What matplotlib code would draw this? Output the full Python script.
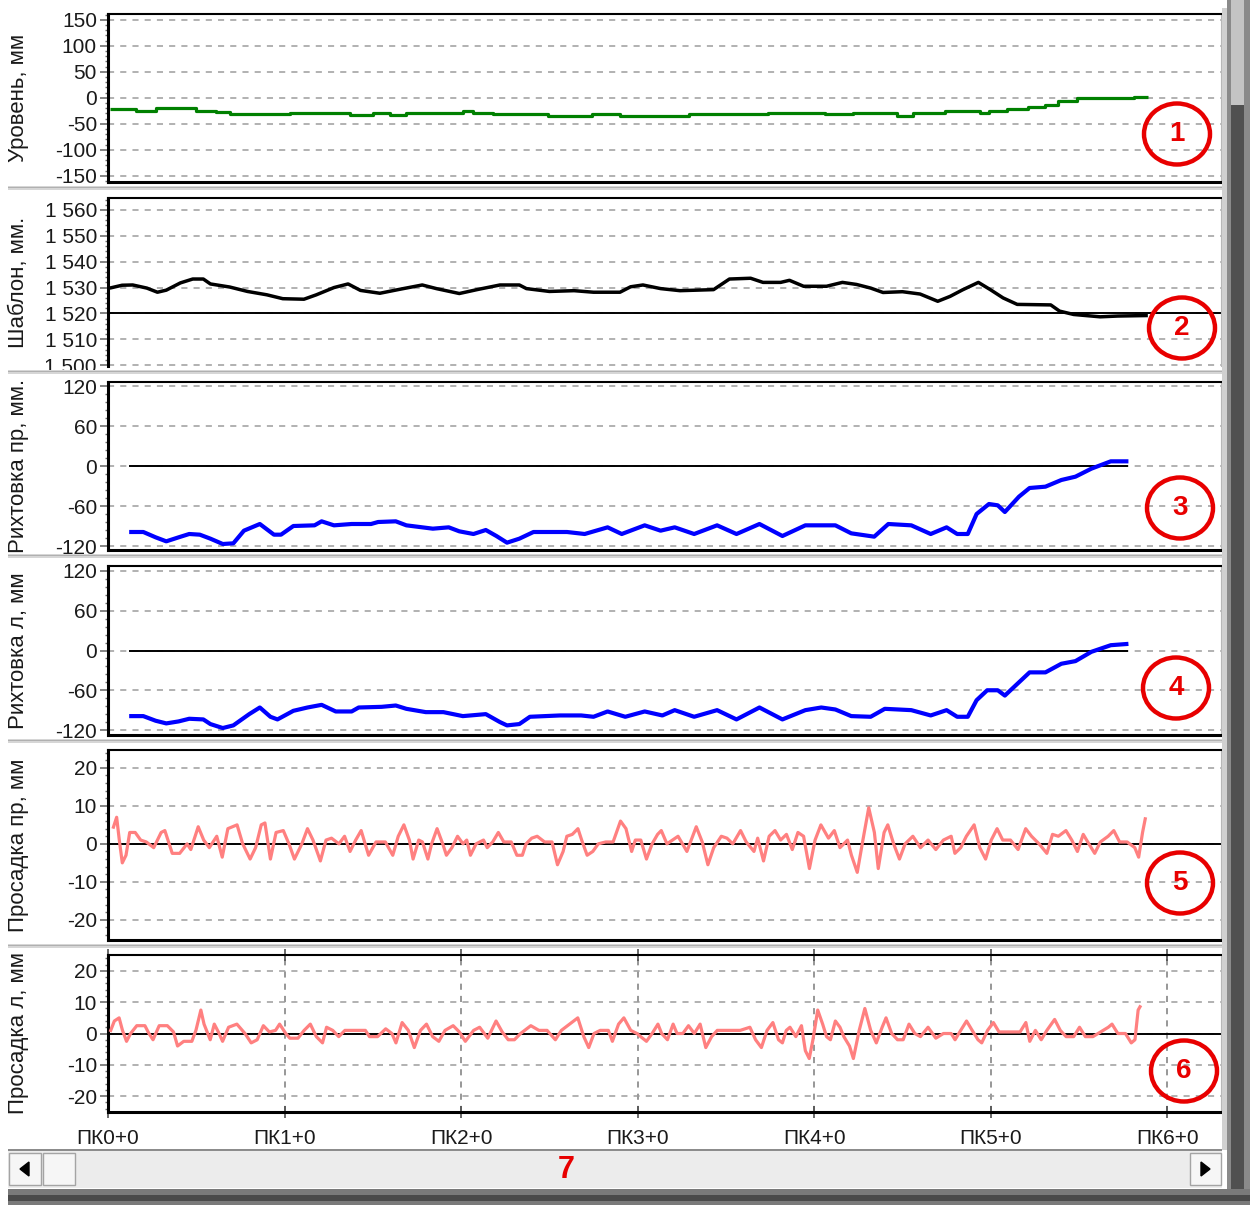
"""Track geometry record: six stacked channels along the line (ПК = 100 m)."""
import numpy as np
import matplotlib
matplotlib.use("Agg")
import matplotlib.pyplot as plt
from matplotlib.patches import Rectangle, Ellipse, Polygon
from matplotlib.ticker import AutoMinorLocator
from matplotlib.transforms import IdentityTransform

plt.rcParams.update({"font.family": ["Liberation Sans", "DejaVu Sans"],
                     "font.size": 14, "lines.solid_capstyle": "butt",
                     "axes.unicode_minus": False})

W, H = 1254, 1205

# ---- data (distance in m, values in mm) ----
level_x = [1, 16, 27, 50, 61, 69, 103, 137, 150, 160, 169, 201, 207, 218, 249, 274,
           290, 329, 374, 406, 422, 447, 456, 474, 494, 499, 509, 521, 531, 538, 549,
           581, 589]
level_y = [-21, -25, -20, -25, -28, -32, -29, -33, -30, -33, -29, -25, -29, -32, -36, -32,
           -36, -32, -29, -32, -30, -35, -30, -26, -30, -26, -22, -18, -13, -7, -1,
           2, 2]

gauge_x = [1, 8, 14, 22, 28, 33, 41, 48, 54, 58,
           69, 79, 90, 99, 111, 118, 128, 136, 143, 154,
           165, 178, 186, 199, 209, 222, 233, 237, 250, 264,
           275, 290, 296, 303, 313, 324, 343, 352, 364, 371,
           381, 386, 394, 407, 416, 424, 432, 439, 450, 460,
           470, 477, 484, 493, 500, 507, 515, 534, 539, 547,
           562, 572, 589]
gauge_y = [1529.8, 1530.9, 1531, 1529.8, 1528.2, 1529, 1531.8, 1533.3, 1533.3, 1531.4,
           1530.2, 1528.5, 1527.2, 1525.7, 1525.5, 1527.2, 1530, 1531.4, 1528.9, 1527.8,
           1529.3, 1531, 1529.6, 1527.7, 1529.2, 1531, 1531, 1529.6, 1528.5, 1528.8,
           1528.2, 1528.2, 1530.3, 1531, 1529.6, 1528.8, 1529.2, 1533.3, 1533.6, 1532,
           1532, 1532.8, 1530.5, 1530.5, 1532, 1531.2, 1529.8, 1528.1, 1528.4, 1527.5,
           1524.7, 1526.6, 1529.1, 1532, 1529.1, 1526, 1523.5, 1523.3, 1520.9, 1519.6,
           1518.7, 1519, 1519.2]

align_r_x = [12, 20, 27, 33, 40, 46, 52, 58, 65, 71,
             77, 86, 94, 98, 105, 117, 121, 128, 138, 149,
             153, 163, 169, 184, 193, 199, 207, 214, 220, 226,
             233, 241, 260, 270, 283, 291, 304, 313, 321, 332,
             345, 356, 369, 382, 395, 412, 421, 434, 442, 455,
             466, 475, 481, 487, 492, 499, 504, 508, 516, 522,
             531, 540, 548, 557, 568, 578]
align_r_y = [-99, -99, -107, -113, -107, -102, -103, -109, -117, -116,
             -97, -87, -103, -103, -90, -89, -83, -89, -87, -87,
             -84, -83, -89, -94, -92, -98, -102, -96, -105, -115,
             -109, -99, -99, -102, -92, -102, -89, -97, -92, -102,
             -89, -102, -87, -105, -89, -89, -101, -106, -87, -89,
             -102, -92, -102, -102, -72, -57, -59, -69, -46, -33,
             -31, -21, -16, -4, 7, 7]

align_l_x = [12, 20, 27, 33, 40, 46, 54, 58, 65, 71,
             80, 86, 92, 96, 105, 113, 121, 129, 138, 142,
             155, 163, 169, 180, 190, 201, 214, 222, 226, 233,
             239, 256, 268, 275, 283, 293, 304, 314, 321, 332,
             345, 356, 369, 382, 395, 404, 412, 421, 432, 440,
             455, 466, 475, 481, 487, 492, 498, 504, 508, 516,
             522, 531, 540, 548, 557, 568, 578]
align_l_y = [-99, -99, -106, -110, -107, -103, -104, -111, -117, -113,
             -96, -86, -100, -104, -91, -86, -82, -92, -92, -86,
             -85, -83, -88, -93, -93, -99, -96, -108, -113, -111,
             -100, -98, -98, -100, -92, -100, -92, -98, -90, -100,
             -90, -104, -86, -104, -90, -86, -89, -99, -100, -88,
             -90, -98, -90, -100, -100, -75, -60, -60, -68, -48,
             -33, -33, -20, -16, -2, 8, 10]

sag_r_x = [2.8, 4.9, 6.4, 8.1, 10.2, 12.3, 15.4, 18.5, 21.7, 25.9,
           30.1, 32.2, 36.4, 40.6, 44.8, 46.9, 51.1, 54.2, 57.4, 61.6,
           64.7, 67.9, 73.1, 76.3, 80.5, 83.6, 86.8, 88.9, 92, 95.2,
           99.3, 102.5, 105.6, 109.8, 113, 116.1, 120.3, 123.5, 126.6, 130.8,
           134, 137.1, 140.3, 143.4, 147.6, 151.8, 157.1, 161.3, 164.4, 167.6,
           170.7, 172.8, 176, 178.1, 181.2, 183.3, 186.4, 189.6, 191.7, 194.8,
           198, 201.1, 203.2, 205.3, 208.5, 212.7, 214.8, 217.9, 221.1, 224.2,
           228.4, 231.6, 234.7, 236.8, 240, 243.1, 247.3, 251.5, 254.6, 257.8,
           259.9, 263, 266.2, 268.3, 271.4, 274.6, 277.7, 281.9, 286.1, 290.3,
           293.4, 296.6, 298.7, 301.8, 305, 308.2, 311.3, 313.4, 316.6, 319.7,
           322.9, 327.9, 333.2, 336.6, 339.8, 343.1, 347.4, 350.6, 353.9, 358.3,
           361.5, 365.9, 368, 371.3, 374.5, 377.8, 381, 384.3, 387.6, 390.8,
           394, 397.3, 400.5, 403.8, 408.1, 411.4, 414.6, 418.9, 421.1, 424.4,
           427.6, 430.9, 434.1, 436.3, 439.6, 441.7, 445, 448.3, 451.5, 455.9,
           460.2, 464.5, 468.9, 473.2, 477.6, 479.7, 483, 486.2, 490.6, 493.8,
           497.1, 500.3, 503.6, 506.8, 511.2, 515.5, 519.8, 523.1, 527.4, 531.8,
           535, 538.3, 542.6, 545.9, 549.1, 552.4, 555.6, 558.9, 562.1, 566.5,
           569.7, 573, 577.3, 581.6, 583.8, 586, 587.7]
sag_r_y = [4, 7, 1, -5, -3, 3, 3, 1, 0.5, -1,
           3, 3.5, -2.5, -2.5, 0, -1.5, 4.5, 1, -1, 2,
           -3.5, 4, 5, 0, -4, -1, 5, 5.5, -4, 3,
           3.5, 0, -4, 0, 4, 1, -4.5, 1, 1.5, 0,
           2, -2, 1, 3.5, -3, 0.5, 0.5, -3, 2, 5,
           1, -4, 1, 0.5, -4, 0, 4, 0, -3, -1,
           2, 0, 1, -3, 0, 1, -1, 0.5, 3, 0.5,
           0.5, -3, -3, 0, 1.5, 2, 0.5, 0.5, -5.5, -2,
           2, 2.5, 4, 1, -3, -2, 0, 0.5, 0.5, 6,
           4, -2, 1, 1, -4, 0, 2.5, 3.5, 0, 1,
           2, -2, 4.5, 0.5, -5.5, -1, 2, 1.5, 0, 3.5,
           0.5, -2, 1.5, -4.5, 2, 3.5, 1, 2.5, -1.5, 3,
           2, -6.5, 1, 5, 1.5, 3.5, -1, 1, -3, -7.5,
           1, 9.5, 3, -6.5, 3, 5, 0, -4, 0, 2,
           -1, 1, -1.5, 1, 2, -2.5, -1, 2, 5, -1,
           -4, 1, 4, 1, 1, -1.5, 4, 2, 0, -2.5,
           2.5, 2, 3.5, 1, -2, 2.5, 0, -2.5, 0.5, 2,
           3.5, 0.5, 0.5, -1, -3.5, 3, 7]

sag_l_x = [1.2, 3.6, 6.3, 8.2, 10.5, 12.8, 16.3, 20.9, 23.2, 25.5,
           29, 33.6, 37.1, 39.4, 42.9, 47.5, 49.8, 52.6, 54.4, 57.9,
           60.2, 62.5, 64.9, 68.3, 73, 77.6, 81.1, 84.5, 88, 91.4,
           94.9, 97.2, 100.7, 103, 107.6, 111.1, 114.6, 118, 121.5, 123.8,
           127.3, 130.7, 134.2, 140, 145.8, 148.1, 152.7, 157.3, 160.8, 163.1,
           166.6, 170.1, 173.5, 177, 180.4, 183.9, 187.4, 190.9, 195.5, 199,
           202.4, 207.1, 210.5, 215.1, 219.8, 223.3, 226.7, 230.2, 233.7, 239.5,
           244.1, 248.7, 253.4, 256.8, 261.5, 266.1, 269.5, 272.3, 275.3, 278.8,
           283.4, 285.7, 289.2, 292.2, 296.1, 299.6, 301.7, 305, 308.2, 311.5,
           313.6, 316.9, 320.1, 322.3, 325.6, 328.8, 332.1, 335.4, 338.6, 341.9,
           345.1, 351.6, 358.1, 363.6, 366.8, 370.1, 373.3, 376.6, 379.8, 382,
           384.2, 386.3, 389.6, 392.8, 395, 397.2, 399.3, 402, 404.8, 407,
           409.2, 412, 414.6, 416.8, 420, 422.2, 425.5, 428.7, 432, 435.2,
           438.5, 440.7, 443.9, 447.2, 450.4, 453.7, 457, 460.2, 464.5, 468.9,
           473.2, 477.6, 479.8, 483, 486.3, 489.5, 492.8, 494.9, 498.2, 501.5,
           504.7, 511.2, 516.6, 519.9, 522.1, 525.3, 528.6, 531.8, 536.2, 539.4,
           542.7, 547, 550.3, 553.6, 557.9, 562.2, 566.6, 568.7, 572, 576.3,
           579.6, 581.7, 583.5, 585]
sag_l_y = [0.5, 4, 5, 1, -2.5, 0, 2.5, 2.5, 0, -2,
           2.5, 2.5, 0.5, -4, -2.5, -2.5, 1, 7.5, 3, -2,
           3, 0.5, -2.5, 2, 3, 0, -3, -2, 2.5, 0.5,
           1, 3, 0, -1.5, -1.5, 1, 3, -1, -3, 2,
           1, -1, 1, 1, 1, -1, -1, 1.5, 0, -3,
           3.5, 1, -4.5, 1, 3, -1, -2.5, 1, 2.5, 0.5,
           -2.5, 1, 2, -1.5, 4, 0.5, -2, -2, 0, 2.5,
           1, 1, -2, 1, 3, 5, -1, -4.5, 0, 1,
           1, -2.5, 3, 5, 1, 0, -1, -2.5, 0, 3,
           0, -2, 3, 0, 0, 2.5, 0, 3, -4.5, -1,
           1, 1, 1, 2, -2, -4.5, 1, 3.5, -2, -3,
           1, 2, -1, 2.5, -5.5, -8, -2, 7.5, 3, -1,
           -2, 4, 2, -1, -4, -8, 1, 8, 1, -3,
           2, 5, 0, -2, -2, 3, 0, -1, 2, -1.5,
           0, 0, -2, 1, 4, 1, -2, -3, 1, 3.5,
           0.5, 0.5, 0.5, 3.5, -2.5, 1, -2, 1, 4.5, 1,
           -1, -1, 2, -1, -1, 0.5, 2, 3, 0, 0,
           -3, -2, 7.5, 9]

pk_pos = [0, 100, 200, 300, 400, 500, 600]
pk_labels = ["ПК0+0", "ПК1+0", "ПК2+0", "ПК3+0", "ПК4+0", "ПК5+0", "ПК6+0"]

ticks_level = [150, 100, 50, 0, -50, -100, -150]
ticks_gauge = [1560, 1550, 1540, 1530, 1520, 1510, 1500]
labels_gauge = ["1 560", "1 550", "1 540", "1 530", "1 520", "1 510", "1 500"]
ticks_align = [120, 60, 0, -60, -120]
ticks_sag = [20, 10, 0, -10, -20]

ylabels = ["Уровень, мм", "Шаблон, мм.", "Рихтовка пр, мм.",
           "Рихтовка л, мм", "Просадка пр, мм", "Просадка л, мм"]
marks = ["1", "2", "3", "4", "5", "6"]

# ---- layout (pixels, top-origin) ----
X_L, X_R = 108, 1222
panel_tb = [(14, 182), (198, 366), (382, 550), (566, 735), (750, 940), (955, 1112)]
ylims = [(-162, 161), (1499.7, 1564.6), (-126, 126), (-127.5, 127.5),
         (-25.3, 24.7), (-25.1, 25.1)]
circle_xy = [(1177, 134), (1182, 328), (1180, 508), (1176, 688), (1180, 883), (1184, 1071)]

fig = plt.figure(figsize=(W / 100, H / 100), dpi=100)
fig.patch.set_facecolor("white")
PIX = IdentityTransform()


def prect(l, t, r, b, **kw):
    fig.add_artist(Rectangle((l, H - b), r - l, b - t, transform=PIX, **kw))


axes = []
for i, (top, bot) in enumerate(panel_tb):
    ax = fig.add_axes([X_L / W, 1 - bot / H, (X_R - X_L) / W, (bot - top) / H])
    ax.set_xlim(0, 631)
    ax.set_ylim(*ylims[i])
    ax.yaxis.set_minor_locator(AutoMinorLocator(5))
    ax.grid(axis="y", ls=(0, (4, 4)), color="#9c9c9c", lw=1.1)
    ax.tick_params(axis="y", which="major", length=6, width=1.2, color="#707070",
                   pad=2, labelsize=15, labelcolor="#1a1a1a")
    ax.tick_params(axis="y", which="minor", length=2, width=1, color="#707070")
    ax.tick_params(axis="x", which="both", bottom=False, labelbottom=False)
    ax.spines["left"].set_linewidth(2.2)
    ax.spines["top"].set_linewidth(1.5)
    ax.spines["bottom"].set_linewidth(2.2)
    ax.spines["right"].set_color("#b8b8b8")
    ax.spines["right"].set_linewidth(1.5)
    ax.set_ylabel(ylabels[i], fontsize=16, color="#1a1a1a")
    ax.yaxis.set_label_coords((29 - X_L) / (X_R - X_L), 0.5)
    axes.append(ax)

ax1, ax2, ax3, ax4, ax5, ax6 = axes

ax1.set_yticks(ticks_level)
ax1.plot(level_x, level_y, color="#008000", lw=2.3, drawstyle="steps-post")

ax2.set_yticks(ticks_gauge)
ax2.set_yticklabels(labels_gauge)
ax2.spines["bottom"].set_visible(False)
ax2.axhline(1520, color="black", lw=1.4)
ax2.plot(gauge_x, gauge_y, color="black", lw=2.5)

for ax, xs, ys in [(ax3, align_r_x, align_r_y), (ax4, align_l_x, align_l_y)]:
    ax.set_yticks(ticks_align)
    ax.hlines(0, xs[0], xs[-1], color="black", lw=1.4, zorder=2)
    ax.plot(xs, ys, color="#0000ff", lw=3.0, zorder=3)

for ax, xs, ys in [(ax5, sag_r_x, sag_r_y), (ax6, sag_l_x, sag_l_y)]:
    ax.set_yticks(ticks_sag)
    ax.axhline(0, color="black", lw=1.4, zorder=2)
    ax.plot(xs, ys, color="#ff8080", lw=2.3, zorder=3)

ax6.set_xticks(pk_pos)
ax6.set_xticklabels(pk_labels)
ax6.grid(axis="x", ls=(0, (4, 4)), color="#7a7a7a", lw=1.1)
ax6.tick_params(axis="x", which="major", bottom=True, top=True, labelbottom=True,
                direction="inout", length=8, width=1.2, color="#505050", pad=8,
                labelsize=15, labelcolor="#1a1a1a")
ax6.tick_params(axis="x", which="minor", bottom=False, top=False)

# ---- window chrome: panel separators, borders, scroll bar ----
for y0 in [186, 370, 554, 739, 944]:
    prect(8, y0, 1226, y0 + 4, facecolor="#d6d6d6", edgecolor="none")
    prect(8, y0 + 1, 1226, y0 + 2, facecolor="#b0b0b0", edgecolor="none")
prect(1222, 8, 1227, 1150, facecolor="#d0d0d0", edgecolor="none")
prect(1227, 0, 1250, 1205, facecolor="#8a8a8a", edgecolor="none")
prect(1231, 0, 1244, 105, facecolor="#c4c4c4", edgecolor="none")
prect(1231, 105, 1244, 1196, facecolor="#505050", edgecolor="none")
prect(8, 1189, 1250, 1205, facecolor="#7a7a7a", edgecolor="none")
prect(8, 1195, 1250, 1201, facecolor="#4a4a4a", edgecolor="none")

prect(8, 1150, 1222, 1188, facecolor="#ececec", edgecolor="none")
prect(8, 1149, 1222, 1151, facecolor="#8c8c8c", edgecolor="none")
for l, r in [(9, 41), (43, 75), (1190, 1221)]:
    prect(l, 1153, r, 1185, facecolor="#f6f6f6", edgecolor="#a4a4a4", lw=1)
fig.add_artist(Polygon([(20, H - 1169), (29, H - 1162), (29, H - 1176)],
                       closed=True, color="black", transform=PIX))
fig.add_artist(Polygon([(1210, H - 1169), (1201, H - 1162), (1201, H - 1176)],
                       closed=True, color="black", transform=PIX))

# ---- red callouts ----
for (cx, cy), m in zip(circle_xy, marks):
    fig.add_artist(Ellipse((cx, H - cy), 66, 61, fill=False, ec="#e80000", lw=3.2,
                           transform=PIX, zorder=5))
    fig.text(cx / W, 1 - cy / H, m, color="#e80000", fontsize=20, fontweight="bold",
             ha="center", va="center", zorder=6)
fig.text(566 / W, 1 - 1170 / H, "7", color="#e80000", fontsize=22, fontweight="bold",
         ha="center", va="center")

fig.savefig("out.png", dpi=100)
print("written")
